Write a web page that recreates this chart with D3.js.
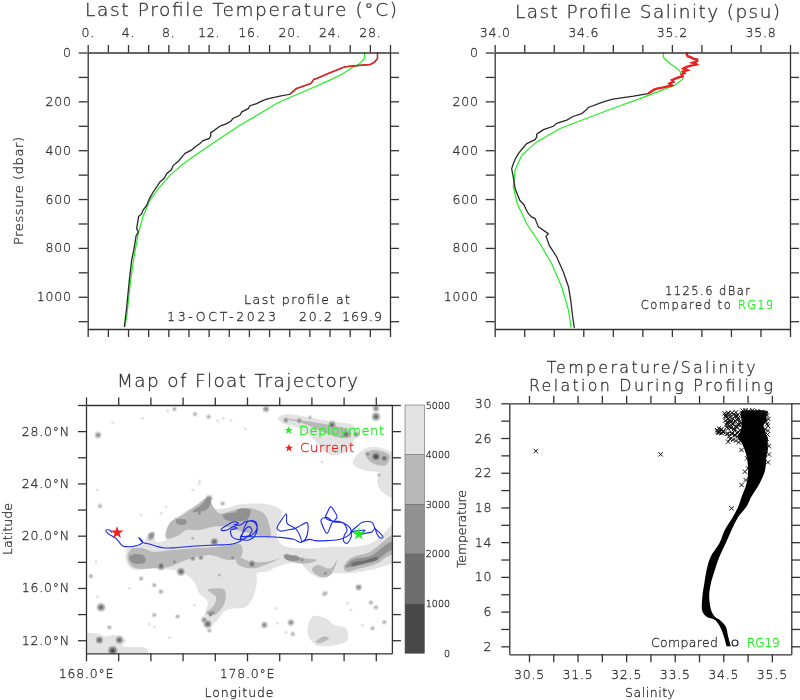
<!DOCTYPE html>
<html><head><meta charset="utf-8">
<script src="https://cdn.jsdelivr.net/npm/d3@7/dist/d3.min.js"></script>
<style>
html,body{margin:0;padding:0;background:#fff}
svg{display:block;filter:blur(0.45px)}
text{font-family:"DejaVu Sans",sans-serif;font-weight:200;fill:#333;stroke:#333;stroke-width:.3px}
.axis text{font-size:12.5px;letter-spacing:.8px;font-family:"DejaVu Sans",sans-serif;font-weight:200;fill:#333;stroke:#333;stroke-width:.3px}
.axis path,.axis line{stroke:#333;stroke-width:1.3px}
</style></head><body><svg id="c" width="800" height="700"></svg>
<script>
// Temperature profile: last profile and climatology
const tempP=[0,25,38,49,55,59,72,86,107,110,127,148,171,179,191,200,209,218,230,243,257,270,280,291,300,311,329,340,352,362,373,388,400,412,424,445,462,480,496,515,530,550,571,600,626,645,660,672,680,721,735,751,796,851,933,1042,1124];
const tempT=[28.76,28.76,28.5,28.07,26.35,25.5,24.7,23.87,22.7,22.45,22.15,20.7,20.07,19.07,17.75,17.2,16.76,16.1,15.93,15.3,15.1,14.4,14.25,13.8,13.2,12.8,12.2,12.22,12.07,11.4,11.14,10.6,10.3,9.7,9.42,9,8.5,8.3,7.83,7.6,7.17,6.85,6.5,6.1,5.85,5.5,5.36,5.05,5.02,4.86,5.02,4.8,4.63,4.36,4.13,3.87,3.64];
const climTP=[0,25,45,59,86,113,143,178,209,250,298,352,407,455,503,557,605,667,742,837,933,1083,1124];
const climT=[27.5,27.44,27,26.35,25.35,24.03,22.38,20.4,18.74,17.09,15.1,13.12,11.14,9.49,8.17,7,6.18,5.52,5.02,4.6,4.26,3.87,3.67];
// Salinity profile: last profile and climatology
const salP=[0,8,15,20,25,29,36,42,46,49,54,59,66,72,78,84,89,97,104,113,120,127,135,143,148,152,160,168,179,191,202,225,235,250,262,277,290,302,316,328,335,346,357,373,392,414,435,455,476,523,557,605,625,640,660,673,680,714,742,753,790,837,899,960,1015,1083,1127];
const salS=[35.305,35.3,35.307,35.33,35.345,35.372,35.37,35.34,35.36,35.368,35.33,35.3,35.278,35.305,35.275,35.285,35.266,35.273,35.235,35.2,35.21,35.183,35.2,35.142,35.1,35.08,35.06,35.04,34.94,34.8,34.736,34.634,34.62,34.59,34.53,34.488,34.42,34.397,34.33,34.3,34.284,34.285,34.273,34.217,34.19,34.16,34.14,34.126,34.115,34.13,34.138,34.17,34.2,34.21,34.228,34.25,34.273,34.296,34.363,34.348,34.37,34.42,34.465,34.5,34.515,34.528,34.54];
const climSP=[0,20,45,72,107,134,157,189,223,264,311,366,421,482,550,619,701,783,865,960,1056,1127];
const climS=[35.142,35.142,35.187,35.25,35.278,35.22,35.12,34.984,34.826,34.646,34.442,34.284,34.183,34.138,34.126,34.153,34.217,34.307,34.386,34.454,34.5,34.517];
const pressureTicks=[0,100,200,300,400,500,600,700,800,900,1000,1100];
const tempTicks=[0,2,4,6,8,10,12,14,16,18,20,22,24,26,28,30];
const salTicks=[34,34.2,34.4,34.6,34.8,35,35.2,35.4,35.6,35.8,36];
// Float trajectory [lon, lat]
const track=[[184.94,20.13],[185.35,20.43],[184.52,20.36],[184.87,20.74],[185.16,21.02],[185.77,21.02],[185.95,20.56],[186.32,20.13],[186.45,19.87],[186.28,19.82],[186.05,20.18],[185.95,20.56],[185.77,20.3],[185.35,20.18],[184.94,20.05],[184.52,20.3],[184.46,19.87],[184.21,19.41],[184,19.59],[184.05,20.05],[184.21,20.38],[184,20.94],[183.38,21.07],[182.93,21.4],[182.6,21.2],[182.72,20.69],[182.97,20.18],[183.28,20.99],[183.59,21.4],[183.38,21.96],[183.2,22.22],[182.97,21.71],[182.87,21.4],[183.18,21.15],[183.8,21.07],[184.42,20.56],[184.42,20.18],[183.8,19.72],[182.97,19.62],[182.25,19.62],[181.87,19.72],[181.36,19.49],[181.62,19.72],[181.79,20.43],[181.73,20.99],[181.31,20.77],[181,20.56],[180.49,20.43],[180.07,20.36],[179.86,20.56],[180.07,21.07],[180.44,21.66],[180.49,20.94],[181,20.56],[181.27,20.05],[181.36,19.49],[180.9,19.72],[180.07,19.87],[179.24,19.92],[178.42,19.92],[177.67,19.92],[178.31,20.05],[178.62,20.56],[178.52,21.07],[178.1,21.12],[177.9,20.82],[177.69,20.05],[177.59,19.72],[178,19.87],[178.31,20.43],[178.1,20.69],[177.79,20.3],[177.59,19.79],[178.1,19.67],[178.52,20.05],[178.62,20.69],[178.42,21.07],[177.9,21.07],[177.59,20.82],[177.17,20.82],[177.48,20.94],[177.17,21.07],[176.86,20.87],[176.45,20.56],[176.39,20.43],[176.76,20.43],[177.17,20.69],[177.38,20.56],[177,20.43],[177.07,19.92],[177.38,19.72],[177.69,19.67],[177.11,19.36],[176.07,19.29],[174.83,19.21],[173.59,19.08],[172.76,19.08],[171.93,19.36],[171.52,19.49],[171.27,19.87],[171.52,19.49],[171.11,19.23],[170.48,19.16],[170.28,19.21],[169.86,19.8],[169.35,20.18],[169.24,20.43],[169.45,20.43],[169.61,20.23]];
const deployment=[184.94,20.13];
const current=[169.93,20.23];
// Bathymetry regions, level 1 = 4000-5000 m ... 5 = 0-1000 m
const bathy1=[
[[170.48,18.14],[170.59,19.03],[171.11,19.29],[171.52,19.29],[171.83,20.05],[172.24,20.3],[172.35,19.54],[172.97,19.67],[173.38,20.94],[174,21.71],[174.83,22.35],[175.56,22.98],[175.97,22.09],[176.7,22.09],[177.63,22.4],[179.45,22.35],[180.18,21.84],[179.97,20.94],[179.86,19.92],[180.18,19.29],[181.52,19.03],[183.18,19.16],[184.63,19.16],[185.66,19.41],[186.28,19.92],[187,20.82],[187.4,21],[187.4,18],[187,17.88],[185.66,17.37],[184.42,17.12],[183.38,17.12],[182.76,16.73],[181.93,17.12],[181.31,17.88],[179.86,17.63],[179.24,17.25],[178.62,17.12],[178.62,16.5],[178.35,15.21],[177.94,14.57],[176.7,14.32],[176.07,13.43],[175.56,13.09],[175.25,13.43],[175.45,14.32],[175.56,14.96],[175.04,15.6],[174.63,16.6],[173.8,17.25],[172.14,17.5],[170.9,17.42]],
[[179.9,28.98],[180.42,29.29],[182.08,28.98],[183.32,28.72],[184.56,28.47],[184.77,27.83],[184.36,26.68],[183.53,26.17],[182.8,26.43],[182.29,27.19],[181.25,28.21],[180.22,28.6]],
[[184.56,25.54],[185.18,26.56],[186,26.81],[187,26.43],[187.4,26.4],[187.4,22.7],[187,22.86],[186.28,23.5],[186.08,24.26],[186.22,24.77],[185.18,25.03]],
[[182.08,13.81],[182.9,13.68],[183.42,13.17],[184.15,12.92],[184.25,12.02],[183.53,11.64],[182.29,11.64],[181.77,12.53]],
[[167.8,12.4],[168.62,12.53],[169.24,12.28],[169.76,12.4],[170.48,12.02],[170.28,11.56],[171.73,11.38],[171.83,10.9],[167.8,10.9]]];
const bathy2=[
[[170.59,18.52],[170.9,19.03],[171.52,19.03],[172.14,18.78],[173.38,18.9],[174.83,19.03],[176.28,19.16],[177.63,19.29],[177.63,18.39],[176.9,18.14],[175.66,18.52],[174.21,18.14],[173.18,17.63],[172.14,17.5],[171.11,17.5],[170.69,17.88]],
[[173.18,20.94],[174,21.58],[175.04,22.47],[175.56,22.86],[175.97,22.09],[176.28,21.71],[177.63,22.09],[178.21,22.09],[179.04,21.71],[179.35,20.94],[179.45,19.92],[178.62,20.05],[177.38,20.43],[176.7,20.69],[175.87,20.69],[175.04,20.43],[174.21,20.43],[173.8,20.05],[172.97,19.8]],
[[171.89,20.2],[172.24,20.25],[172.14,19.7],[171.89,19.67]],
[[177.38,18.39],[178.21,18.01],[179.24,18.01],[180.07,18.27],[178.83,17.63],[178.21,17.5],[177.38,17.88]],
[[180.28,18.52],[181.52,18.27],[182.35,18.14],[181.73,17.88],[180.49,18.14]],
[[182.35,17.75],[183.18,17.5],[183.59,18.14],[183.18,17],[182.56,16.86],[182.04,17.37]],
[[184,17.5],[184.42,18.27],[185.66,18.78],[187,20.05],[187.4,20.2],[187.4,18.2],[187,18.52],[186.08,17.88],[185.04,17.5],[184.21,17.25]],
[[175.56,15.85],[176.6,15.85],[176.6,14.83],[175.97,13.94],[175.45,14.06],[175.97,14.7],[176.07,15.34]],
[[182.29,11.9],[182.8,12.28],[183.1,12.15],[182.5,11.77]],
[[180.2,29],[181.25,28.85],[183.1,28.47],[184.36,28.09],[184.46,27.58],[183.94,27.45],[182.9,27.83],[181.46,28.6]],
[[185.39,26.17],[185.8,26.55],[186.84,26.17],[186.63,25.4],[185.8,25.54]]];
const bathy3=[
[[170.69,18.39],[171.11,18.6],[171.62,18.44],[171.69,18.01],[171.11,17.83],[170.8,18.01]],
[[173.59,21.2],[174.21,21.2],[174.21,20.89],[173.69,20.89]],
[[174.63,21.84],[175.45,21.96],[175.76,22.6],[175.56,22.98],[175.25,22.47]],
[[176.49,21.58],[177.63,21.71],[177.63,21.2],[176.7,21.2]],
[[177.38,21.96],[178.21,21.96],[178,21.2],[177.38,21.2]],
[[171.95,20.1],[172.2,20.15],[172.1,19.8],[171.95,19.8]],
[[180.3,18.5],[181.3,18.3],[181.2,18.1],[180.4,18.2]],
[[175.6,14.1],[176,14.2],[175.7,13.8]],
[[184.11,17.58],[184.52,18.14],[185.66,18.44],[187,19.54],[187.4,19.3],[187.4,18.6],[187,18.9],[186.08,18.14],[185.04,17.75]]];
const bathy4=[[[184.5,17.9],[185.3,18.1],[186.1,18.35],[186.1,18.15],[185.3,17.9],[184.5,17.7]]];
const bathyLevels=[bathy1,bathy2,bathy3,bathy4,[]];
const seamounts=[[168.93,14.52,4],[169.45,12.99,2],[168.83,12.02,4],[170.07,12.02,4],[169.66,11.2,5],[172.24,13.94,2],[173.69,13.81,2],[175.35,13.55,3],[175.56,13.25,4],[175.66,12.74,2],[179.08,13.17,3],[180.73,13.35,3],[180.84,12.48,2],[180.42,12.61,1],[179.8,14.45,1],[182.8,15.54,2],[185.7,14.88,2],[186.01,14.52,2],[184.46,14.32,1],[184.25,14.83,1],[185.18,13.17,1],[185.8,12.92,2],[186.53,13.38,2],[173.18,12.2,1],[174.73,14.7,1],[171.93,13.25,1],[172.24,13.04,1],[172.66,15.72,2],[179.9,13.3,1],
[168.75,27.7,3],[173.49,29.69,2],[173.07,29.54,1],[174.77,29.31,2],[175.62,29.11,2],[176.18,28.8,1],[176.53,28.98,1],[177.01,28.85,1],[171.52,28.98,1],[169.66,28.67,1],[177.9,28.16,1],[179.18,29.69,3],[180.42,28.85,3],[181.25,28.8,3],[181.91,29.03,2],[183.28,28.47,4],[184.15,27.76,4],[184.77,27.76,3],[186.01,29.74,3],[186.01,29.11,4],[186.01,26.05,5],[185.5,26.25,3],[186.53,25.92,4],[186.22,24.64,2],[182.66,25.66,1],[175.04,24.18,1],
[168.87,22.27,2],[168.72,23.5,1],[171.42,21.58,1],[176.49,22.47,2],[174.63,23.5,1],[175.04,24,1],[172.66,21.71,1],[172.97,22.22,1],[168.62,18.01,1],[168.31,16.91,2],[171.42,16.73,2],[172.24,16.22,2],[172.66,15.71,2],[170.69,15.97,1],[168.72,15.33,1],[173.9,17.25,4],[172.66,17.68,4],[175.97,19.54,4],[175.66,22.86,3],[173.69,21.15,3],[175.04,21.71,3],[174.63,19.8,2],[177.11,18.34,3],[173.49,18,3],[174.63,18.27,3],[175.14,18.34,3],[176.28,17,2],[175.87,17.37,1],
[178.31,17.83,4],[180.49,18.44,3],[181,18.34,3],[181.42,18.14,3],[182.87,17.12,3],[184.94,16.05,3],[182.87,15.6,2]];
const levelColors=["#e3e3e3","#b9b9b9","#919191","#6e6e6e","#484848"];
const barDepths=[0,1000,2000,3000,4000,5000];
// T/S cloud envelope and individually visible points
const envT=[2,3.12,4.27,5.04,5.42,6,7.73,9.26,10.8,12.33,13.87,15.4,16.94,18.1,19.25,20.8,22.3,23.86,24.8,25.4,26,26.4,26.9,27.5,28,28.5,29,29.2];
const envL=[34.567,34.512,34.43,34.33,34.156,34.07,34.07,34.11,34.156,34.24,34.42,34.53,34.7,34.81,34.88,34.98,35.01,34.98,34.93,34.88,34.8,34.82,34.86,34.88,34.88,34.86,34.86,34.92];
const envR=[34.656,34.6,34.55,34.43,34.327,34.26,34.21,34.245,34.327,34.42,34.55,34.67,34.81,34.98,35.08,35.25,35.36,35.39,35.42,35.41,35.42,35.38,35.36,35.33,35.4,35.38,35.42,35.24];
const tsSal=[30.64,33.21,34.6,34.875,34.99,35.01,34.945,34.96,34.875,34.67,34.375,34.39,34.41,34.43,34.45,34.47,34.5,34.39,34.42,34.46,34.49,34.53,34.56,34.6,34.64,34.68,34.72,34.76,34.8,34.56,34.6,34.64,34.7,34.74,34.8,34.54,34.58,34.66,34.72,34.78,34.84,34.57,34.63,34.69,34.75,34.81,34.6,34.66,34.72,34.78,34.84,34.58,34.62,34.68,34.74,34.8,34.86,34.64,34.7,34.76,34.82,35.4,35.43,35.38,35.42,35.36,35.41,35.39,35.37,34.9,34.96,35.02,35.1,35.2,35.28,34.8,34.74,34.68,34.6,34.5,34.55,34.59,34.62,34.66,34.7,34.74,34.78,34.82,34.86,34.57,34.61,34.65,34.73,34.79,34.85,34.89,35.42,35.4,35.44,35.38,35.34,35.3,35.44,35.42];
const tsTemp=[24.5,24.12,25.58,24.62,23.66,22.51,22.12,21.16,20.59,17.9,26.9,26.6,27.1,26.75,26.95,26.55,26.8,26.75,26.65,27.0,26.7,28.84,28.6,28.9,28.7,28.9,28.75,28.95,28.7,28.4,28.2,28.45,28.25,28.5,28.3,28.0,27.75,28.0,27.8,28.1,27.9,27.5,27.4,27.6,27.35,27.55,27.1,27.15,27.05,27.25,26.9,26.5,26.2,26.6,26.3,26.7,26.1,25.9,25.8,25.7,25.5,28.6,28.2,27.9,27.4,27,26.4,25.5,24.6,29.15,29.2,29.1,29.2,29.1,28.95,26.2,26.35,26.45,26.5,26.7,28.55,28.75,28.05,27.85,27.65,27.95,28.55,28.15,27.7,27.25,27.8,27.3,26.85,26.55,27.45,28.9,26.85,27.6,25.05,28.85,28.95,29,24.1,23.2];
const salTsTicks=[30.5,31,31.5,32,32.5,33,33.5,34,34.5,35,35.5];
const tsTempTicks=[2,4,6,8,10,12,14,16,18,20,22,24,26,28,30];
const lonTicks=[168,170,172,174,176,178,180,182,184,186];
const latTicks=[12,14,16,18,20,22,24,26,28,30];

const svg=d3.select("#c");
const GREEN="#22ee22",RED="#ee2020",INK="#2a2a2a";
function text(x,y,s,o={}){const t=svg.append("text").attr("x",x).attr("y",y).text(s)
 .attr("font-size",o.size||13).attr("text-anchor",o.anchor||"start");
 if(o.color)t.style("fill",o.color).style("stroke",o.color);
 if(o.len)t.attr("textLength",o.len).attr("lengthAdjust","spacing");
 if(o.rot)t.attr("transform",`rotate(-90 ${x} ${y})`);return t;}
function axes(x,y,o){
 const [l,r]=x.range(),t=d3.min(y.range()),b=d3.max(y.range());
 const g=(c,tr)=>svg.append("g").attr("class","axis "+c).attr("transform",tr);
 const a=(f,s,vals,fmt,sz,pad)=>f(s).tickValues(vals).tickFormat(fmt||(()=>"")).tickSize(sz).tickSizeOuter(0).tickPadding(pad||0);
 g("t",`translate(0,${t})`).call(a(d3.axisTop,x,o.xt,o.topFmt,7.5,o.topPad||8));
 g("b",`translate(0,${b})`).call(a(d3.axisBottom,x,o.xt,o.botFmt,8,8));
 g("l",`translate(${l},0)`).call(a(d3.axisLeft,y,o.yt,o.leftFmt,o.ls||9,o.lp||7));
 g("r",`translate(${r},0)`).call(a(d3.axisRight,y,o.yt,null,9,0));
}
const every=(vals,n,f,off=0)=>d=>{const i=vals.indexOf(d);return (i-off)%n===0?f(d):"";};

// --- Panel 1
{
 const x=d3.scaleLinear([0,30],[87.7,390]),y=d3.scaleLinear([0,1132],[52.5,329]);
 const line=d3.line().x(d=>x(d[0])).y(d=>y(d[1]));
 const pts=d3.zip(tempT,tempP),cl=d3.zip(climT,climTP);
 svg.append("path").attr("d",line(cl)).attr("fill","none").attr("stroke",GREEN).attr("stroke-width",1.2);
 svg.append("path").attr("d",line(pts)).attr("fill","none").attr("stroke",INK).attr("stroke-width",1.3);
 svg.append("path").attr("d",line(pts.filter(d=>d[1]<=171))).attr("fill","none").attr("stroke",RED).attr("stroke-width",1.4);
 axes(x,y,{xt:tempTicks,yt:pressureTicks,topFmt:every(tempTicks,2,d=>d+".",0),leftFmt:every(pressureTicks,2,d=>d)});
 text(85,16,"Last Profile Temperature (°C)",{size:18.5,len:312});
 text(23,245,"Pressure (dbar)",{size:13,len:108,rot:true});
 text(244,303.5,"Last profile at",{size:12.5,len:106});
 text(167,320.7,"13-OCT-2023",{size:12.5,len:109});
 text(299,320.7,"20.2",{size:12.5,len:33});
 text(342,320.7,"169.9",{size:12.5,len:40});
}
// --- Panel 2
{
 const x=d3.scaleLinear([34,36],[494.7,790]),y=d3.scaleLinear([0,1132],[52.5,329]);
 const line=d3.line().x(d=>x(d[0])).y(d=>y(d[1]));
 const pts=d3.zip(salS,salP),cl=d3.zip(climS,climSP);
 svg.append("path").attr("d",line(cl)).attr("fill","none").attr("stroke",GREEN).attr("stroke-width",1.2);
 svg.append("path").attr("d",line(pts)).attr("fill","none").attr("stroke",INK).attr("stroke-width",1.3);
 svg.append("path").attr("d",line(pts.filter(d=>d[1]<=168))).attr("fill","none").attr("stroke",RED).attr("stroke-width",2.4);
 axes(x,y,{xt:salTicks,yt:pressureTicks,topFmt:every(salTicks,3,d=>d.toFixed(1)),leftFmt:every(pressureTicks,2,d=>d)});
 text(515,17.5,"Last Profile Salinity (psu)",{size:18.5,len:265});
 text(665,295,"1125.6 dBar",{size:11.5,len:85});
 text(640.7,308.5,"Compared to",{size:11.5,len:90});
 text(738,308.5,"RG19",{size:11.5,len:35,color:GREEN});
}
// --- Map
{
 const x=d3.scaleLinear([168,187],[86,391.9]),y=d3.scaleLinear([11,30],[653.3,405]);
 svg.append("clipPath").attr("id","mapclip").append("rect").attr("x",86).attr("y",405).attr("width",305.9).attr("height",248.3);
 const m=svg.append("g").attr("clip-path","url(#mapclip)");
 const blob=d3.line().x(d=>x(d[0])).y(d=>y(d[1])).curve(d3.curveCatmullRomClosed.alpha(.5));
 bathyLevels.forEach((polys,i)=>{
  polys.forEach(p=>m.append("path").attr("d",blob(p)).attr("fill",levelColors[i]));
  seamounts.filter(s=>s[2]>i).forEach(s=>{
   m.append("circle").attr("cx",x(s[0])).attr("cy",y(s[1])).attr("r",(s[2]-i-1)*1.15+1.5).attr("fill",levelColors[i]);});
 });
 const tl=d3.line().x(d=>x(d[0])).y(d=>y(d[1])).curve(d3.curveCatmullRom.alpha(.5));
 m.append("path").attr("d",tl(track)).attr("fill","none").attr("stroke","#1a28e8").attr("stroke-width",1.1);
 const star=d3.symbol().type(d3.symbolStar);
 m.append("path").attr("d",star.size(50)()).attr("transform",`translate(${x(current[0])},${y(current[1])})`).attr("fill",RED);
 m.append("path").attr("d",star.size(50)()).attr("transform",`translate(${x(deployment[0])},${y(deployment[1])})`).attr("fill",GREEN);
 axes(x,y,{xt:lonTicks,yt:latTicks,leftFmt:every(latTicks,2,d=>d.toFixed(1)+"°N"),botFmt:d=>(d===168||d===178)?d.toFixed(1)+"°E":"",ls:8,lp:8});
 svg.append("path").attr("d",star.size(22)()).attr("transform","translate(288.7,430.3)").attr("fill",GREEN);
 svg.append("path").attr("d",star.size(22)()).attr("transform","translate(289,448)").attr("fill",RED);
 text(299,435,"Deployment",{size:13,len:85,color:GREEN});
 text(300,452,"Current",{size:13,len:54,color:RED});
 text(117,387,"Map of Float Trajectory",{size:18.5,len:241});
 text(239,696.7,"Longitude",{size:12.5,len:69,anchor:"middle"});
 text(11.5,555,"Latitude",{size:12.5,len:52,rot:true});
 // colour bar
 const cb=d3.scaleLinear([0,5000],[653.3,405]);
 d3.pairs(barDepths).forEach((p,i)=>{
  svg.append("rect").attr("x",405).attr("width",19.5).attr("y",cb(p[1])).attr("height",cb(p[0])-cb(p[1])).attr("fill",levelColors[4-i]).attr("stroke","#666").attr("stroke-width",.6);
 });
 barDepths.forEach(d=>{text(450,cb(d)+3.5,d,{size:9.5,anchor:"end"});});
}
// --- T/S
{
 const x=d3.scaleLinear([30.095,35.9],[509.3,791.3]),y=d3.scaleLinear([1.08,30],[654.3,403.3]);
 const area=d3.area().y(d=>y(d[0])).x0(d=>x(d[1])).x1(d=>x(d[2])).curve(d3.curveCatmullRom.alpha(.5));
 svg.append("path").attr("d",area(d3.zip(envT,envL,envR))).attr("fill","#000");
 const cross=d3.symbol().type(d3.symbolX).size(14);
 svg.append("g").selectAll("path").data(d3.zip(tsSal,tsTemp)).join("path").attr("d",cross())
  .attr("transform",d=>`translate(${x(d[0])},${y(d[1])})`).attr("fill","none").attr("stroke","#111").attr("stroke-width",1);
 axes(x,y,{xt:salTsTicks,yt:tsTempTicks,botFmt:every(salTsTicks,2,d=>d.toFixed(1)),
   leftFmt:d=>((d-2)%4===0?d:""),ls:8,lp:9});
 text(546.7,372.5,"Temperature/Salinity",{size:15.9,len:209});
 text(529,391,"Relation During Profiling",{size:15.9,len:244});
 text(650,696.7,"Salinity",{size:12.5,len:50,anchor:"middle"});
 text(466,568,"Temperature",{size:12.5,len:78,rot:true});
 text(651,646.7,"Compared",{size:12.5,len:67});
 svg.append("circle").attr("cx",735).attr("cy",643).attr("r",3).attr("fill","#fff").attr("stroke","#222").attr("stroke-width",1.1);
 text(746.7,646.7,"RG19",{size:12.5,len:33,color:GREEN});
}
</script></body></html>
